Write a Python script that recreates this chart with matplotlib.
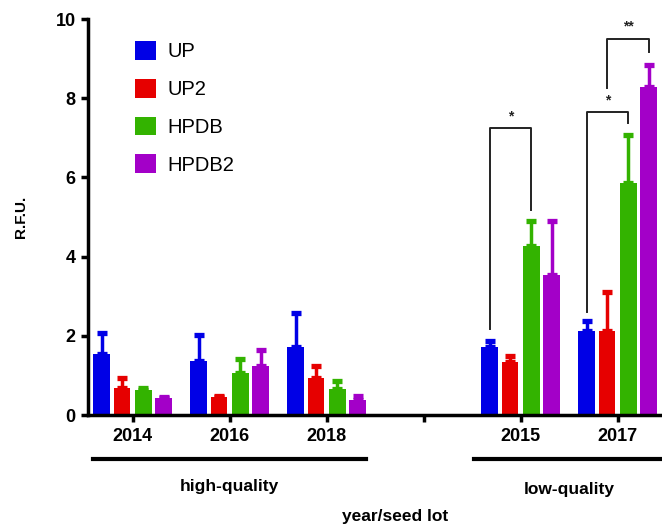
import numpy as np
import matplotlib
matplotlib.use('Agg')
import matplotlib.pyplot as plt
from matplotlib.patches import Patch

plt.rcParams['font.family'] = ['Liberation Sans', 'DejaVu Sans']

# Datos
groups = ['2014', '2016', '2018', '2015', '2017']
group_pos = [0, 1, 2, 4, 5]
series = ['UP', 'UP2', 'HPDB', 'HPDB2']
colors = ['#0000e6', '#e60000', '#33b300', '#a300c8']

up_mean = [1.54, 1.37, 1.73, 1.71, 2.13]
up2_mean = [0.69, 0.46, 0.93, 1.34, 2.13]
hpdb_mean = [0.62, 1.07, 0.65, 4.26, 5.85]
hpdb2_mean = [0.42, 1.24, 0.38, 3.54, 8.29]

up_err = [0.52, 0.66, 0.84, 0.17, 0.25]
up2_err = [0.24, 0.02, 0.31, 0.14, 0.98]
hpdb_err = [0.05, 0.35, 0.22, 0.63, 1.21]
hpdb2_err = [0.04, 0.41, 0.11, 1.35, 0.55]

means = [up_mean, up2_mean, hpdb_mean, hpdb2_mean]
errs = [up_err, up2_err, hpdb_err, hpdb2_err]

fig = plt.figure(figsize=(6.62, 5.29), dpi=100)
ax = fig.add_axes([0.133, 0.2155, 0.867, 0.7485])

offsets = [-0.32, -0.11, 0.11, 0.32]
width = 0.175
x = np.array(group_pos, dtype=float)
for i in range(4):
    xi = x + offsets[i]
    ax.bar(xi, means[i], width=width, color=colors[i], zorder=2)
    ax.errorbar(xi, means[i], yerr=[np.zeros(5), errs[i]], fmt='none',
                ecolor=colors[i], elinewidth=2.5, capsize=3.8, capthick=3.8,
                zorder=3)

# Corchetes de significancia
def bracket(x1, y1, x2, y2, ytop, label, ystar):
    ax.plot([x1, x1, x2, x2], [y1, ytop, ytop, y2], color='#222222', lw=1.4,
            zorder=4, clip_on=False)
    ax.text((x1 + x2) / 2, ystar, label, ha='center', va='center',
            fontsize=10, fontweight='bold', color='#222222')

bracket(4 - 0.32, 2.18, 4 + 0.11, 5.17, 7.26, '*', 7.55)
bracket(5 - 0.32, 2.6, 5 + 0.11, 7.37, 7.64, '*', 7.95)
bracket(5 - 0.105, 8.25, 5 + 0.32, 9.18, 9.49, '**', 9.8)

ax.set_ylim(0, 10)
ax.set_xlim(-0.46, 5.457)
ax.set_yticks([0, 2, 4, 6, 8, 10])
ax.set_xticks([0, 1, 2, 3, 4, 5])
ax.set_xticklabels(['2014', '2016', '2018', '', '2015', '2017'])
for lab in ax.get_xticklabels() + ax.get_yticklabels():
    lab.set_fontweight('bold')
    lab.set_fontsize(13)

ax.spines['top'].set_visible(False)
ax.spines['right'].set_visible(False)
ax.spines['left'].set_linewidth(2.5)
ax.spines['bottom'].set_linewidth(2.5)
ax.tick_params(width=2.5, length=5, pad=4)

ax.set_ylabel('R.F.U.', fontsize=11, fontweight='bold', labelpad=20)

# Lineas de grupos
trans = ax.get_xaxis_transform()
ax.plot([-0.41, 2.41], [-0.111, -0.111], color='black', lw=3, transform=trans,
        clip_on=False)
ax.plot([3.515, 5.46], [-0.111, -0.111], color='black', lw=3, transform=trans,
        clip_on=False)
ax.text(1.0, -0.18, 'high-quality', transform=trans, ha='center', va='center',
        fontsize=12.5, fontweight='bold')
ax.text(4.5, -0.188, 'low-quality', transform=trans, ha='center', va='center',
        fontsize=12.5, fontweight='bold')
fig.text(395 / 662, 1 - 517 / 529, 'year/seed lot', ha='center', va='center',
         fontsize=12.5, fontweight='bold')

handles = [Patch(facecolor=c) for c in colors]
ax.legend(handles, series, loc='upper left', bbox_to_anchor=(0.05, 0.99),
          frameon=False, fontsize=14.5, handlelength=1.05, handleheight=1.05,
          labelspacing=0.87, handletextpad=0.55)

fig.savefig('out.png', dpi=100)
